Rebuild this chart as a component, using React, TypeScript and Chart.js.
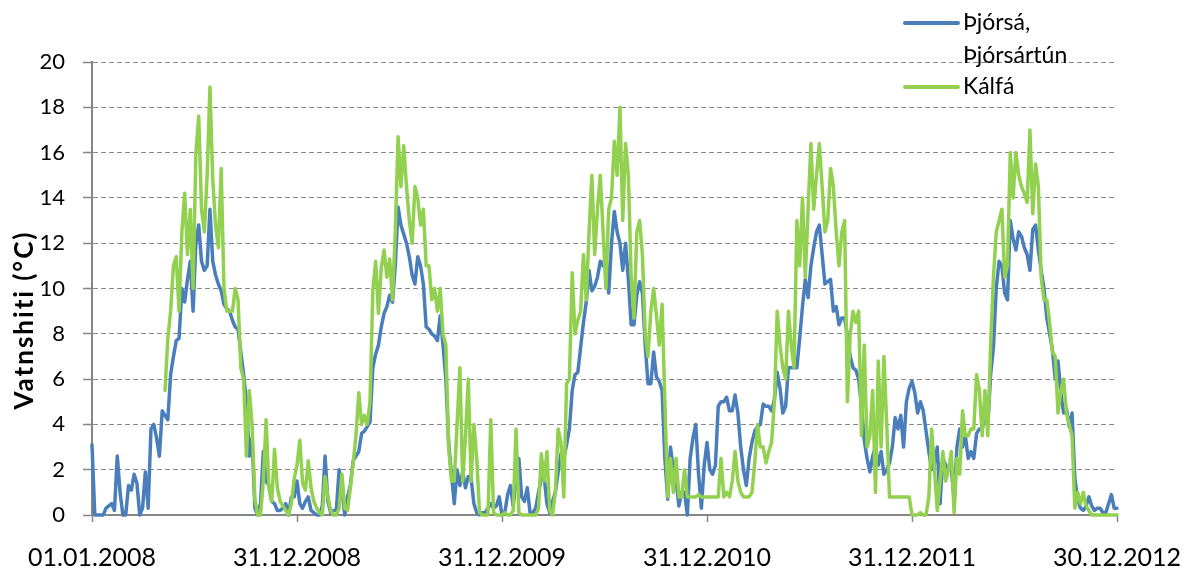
import React, { useEffect, useRef } from 'react';
import { Chart, registerables } from 'chart.js';

Chart.register(...registerables);

// ---------- data ----------
const STEP_DAYS = 5; // one reading every 5 days, starting 01.01.2008
const DAYS_PER_TICK = 365;
const X_TICK_LABELS = ['01.01.2008', '31.12.2008', '31.12.2009', '31.12.2010', '31.12.2011', '30.12.2012'];
const Y_MIN = 0;
const Y_MAX = 20;
const Y_STEP = 2;
const Y_TITLE = 'Vatnshiti (°C)';
const SERIES_NAMES = ['Þjórsá, Þjórsártún', 'Kálfá'];
const LEGEND_LINES = [['Þjórsá,', 'Þjórsártún'], ['Kálfá']];

const THJORSA: (number | null)[] = [
  3.1, 0, 0, 0, 0, 0.3, 0.4, 0.5, 0.2, 2.6,
  1.0, 0, 0, 1.3, 1.1, 1.8, 1.4, 0, 0.3, 1.9,
  0.3, 3.8, 4.0, 3.4, 2.6, 4.6, 4.4, 4.2, 6.2, 7.0,
  7.7, 7.8, 10.0, 9.4, 10.4, 11.2, 9.0, 12.0, 12.8, 11.2,
  10.8, 11.0, 13.5, 11.2, 10.6, 10.2, 9.9, 9.3, 9.1, 9.0,
  8.6, 8.3, 8.2, 7.2, 6.2, 5.0, 2.6, 3.4, 0.3, 0,
  0.5, 2.8, 1.5, 1.3, 0.6, 0.5, 0.2, 0.2, 0.3, 0.5,
  0, 0.8, 0.8, 1.5, 0.5, 0.3, 0.6, 0.8, 0.2, 0.1,
  0, 0, 0.4, 2.6, 0.6, 0.1, 0.2, 0.2, 2.0, 1.2,
  0, 0.8, 1.3, 2.4, 2.6, 2.8, 3.6, 3.7, 3.9, 4.1,
  6.5, 7.1, 7.5, 8.3, 8.9, 9.2, 9.7, 9.4, 11.0, 13.6,
  12.8, 12.4, 12.0, 11.4, 10.6, 10.2, 11.4, 11.0, 10.2, 8.3,
  8.2, 8.0, 7.9, 7.7, 8.8, 7.5, 6.0, 3.2, 1.8, 0.5,
  2.0, 1.3, 1.9, 1.2, 1.7, 1.6, 0.5, 0.1, 0, 0.1,
  0.1, 0.3, 0.5, 0.3, 0.4, 0.8, 0, 0.1, 0.9, 1.3,
  0.4, 1.6, 2.5, 0.8, 0.6, 1.2, 0.1, 0.1, 0.3, 1.0,
  1.6, 1.7, 0.5, 0.1, 0.6, 1.0, 1.9, 2.7, 2.5, 3.1,
  3.8, 5.5, 6.2, 6.3, 7.4, 8.5, 9.4, 10.8, 9.9, 10.1,
  10.5, 11.2, 11.0, 11.5, 9.8, 12.0, 13.4, 12.5, 12.0, 10.8,
  12.0, 10.4, 8.4, 8.4, 9.7, 10.3, 9.8, 7.5, 5.8, 5.8,
  7.2, 6.1, 5.9, 5.5, 2.5, 0.7, 3.0, 2.0, 1.5, 0.4,
  1.0, 1.0, 0, 2.5, 3.4, 4.0, 1.8, 0.3, 2.2, 3.2,
  2.0, 1.8, 2.2, 4.8, 5.0, 5.0, 5.2, 4.6, 4.6, 5.3,
  4.5, 3.0, 2.0, 1.3, 2.5, 3.2, 3.7, 3.9, 4.0, 4.9,
  4.8, 4.8, 4.6, 5.1, 6.3, 5.6, 4.5, 4.8, 6.5, 6.5,
  6.5, 6.5, 7.8, 9.2, 10.4, 9.6, 11.0, 11.8, 12.5, 12.8,
  11.5, 10.2, 10.3, 10.4, 9.0, 9.2, 8.4, 8.7, 8.7, 7.9,
  7.0, 6.5, 6.4, 6.0, 4.8, 3.3, 2.5, 1.9, 2.6, 3.0,
  2.2, 2.8, 1.8, 2.0, 2.3, 3.0, 4.3, 3.8, 4.4, 3.0,
  5.0, 5.6, 5.9, 5.4, 4.5, 5.0, 4.6, 3.7, 2.8, 2.0,
  2.3, 3.0, 0.5, 2.5, 2.2, 2.0, 2.0, 0.7, 3.0, 3.8,
  3.0, 3.5, 2.5, 2.8, 2.5, 3.6, 3.8, 3.8, 4.4, 4.0,
  6.2, 7.4, 10.0, 11.2, 11.0, 9.8, 9.5, 13.0, 12.2, 11.7,
  12.5, 12.3, 11.8, 11.5, 10.8, 12.6, 12.8, 11.7, 10.8, 10.0,
  8.7, 8.0, 7.3, 6.0, 6.8, 5.4, 4.5, 4.7, 3.9, 4.5,
  1.6, 0.7, 0.3, 0.2, 0.4, 0.8, 0.4, 0.2, 0.3, 0.3,
  0.1, 0.1, 0.5, 0.9, 0.3, 0.3,
];

const KALFA: (number | null)[] = [
  null, null, null, null, null, null, null, null, null, null,
  null, null, null, null, null, null, null, null, null, null,
  null, null, null, null, null, null, 5.5, 7.8, 9.0, 11.0,
  11.4, 9.0, 12.5, 14.2, 11.5, 13.5, 10.0, 16.0, 17.6, 13.5,
  12.5, 15.0, 18.9, 14.8, 12.8, 11.8, 15.3, 10.0, 9.0, 9.0,
  9.0, 10.0, 9.5, 6.5, 6.0, 2.6, 5.5, 4.0, 0.7, 0,
  0, 1.5, 4.2, 1.2, 0.6, 2.9, 1.2, 0.6, 0.4, 0.2,
  0, 0.5, 1.6, 2.2, 3.3, 1.4, 1.1, 2.4, 1.2, 0.6,
  0.3, 0.1, 0, 1.7, 0.8, 0.2, 0, 0, 0.3, 1.8,
  0.3, 0.2, 1.2, 2.3, 3.5, 5.4, 4.0, 4.4, 4.0, 5.0,
  9.9, 11.2, 8.9, 10.9, 11.7, 10.5, 11.3, 9.5, 12.5, 16.7,
  14.5, 16.3, 14.5, 13.0, 12.0, 14.5, 14.0, 12.8, 13.5, 11.0,
  11.0, 9.5, 10.0, 9.0, 10.0, 8.0, 7.5, 3.0, 1.5, 1.5,
  4.0, 6.5, 1.5, 3.5, 6.0, 1.5, 4.0, 2.5, 0.1, 0,
  0, 0, 4.2, 0.1, 0, 0, 0, 0.1, 0, 0,
  0.2, 3.8, 0.1, 0, 0, 0, 0, 0, 0, 0.3,
  2.7, 1.5, 2.8, 0.2, 0, 1.0, 3.8, 3.2, 0.8, 5.8,
  6.0, 10.7, 8.0, 8.6, 9.0, 11.5, 9.5, 12.5, 15.0, 11.5,
  13.5, 15.0, 12.5, 10.0, 13.5, 14.0, 16.5, 15.0, 18.0, 13.0,
  16.4, 15.0, 10.5, 8.7, 12.5, 13.0, 11.5, 8.0, 7.0, 9.0,
  10.0, 8.8, 7.5, 9.3, 5.0, 0.8, 2.5, 1.0, 2.5, 0.8,
  0.8, 2.0, 0.8, 0.8, 0.8, 0.8, 0.9, 0.8, 0.8, 0.8,
  0.8, 0.8, 0.8, 0.8, 2.5, 0.8, 1.0, 0.8, 1.5, 2.8,
  1.5, 1.0, 0.8, 0.8, 0.8, 1.0, 2.3, 4.0, 3.0, 3.0,
  2.3, 2.8, 3.2, 5.0, 9.0, 7.5, 6.5, 6.0, 9.0, 7.5,
  6.5, 13.0, 11.0, 14.0, 10.5, 13.5, 16.4, 13.5, 15.0, 16.4,
  14.5, 12.5, 13.0, 15.3, 14.5, 12.5, 11.0, 12.5, 13.0, 5.0,
  8.0, 9.0, 8.5, 9.0, 3.5, 7.5, 3.0, 3.5, 5.5, 1.0,
  6.8, 3.0, 7.0, 4.0, 0.8, 0.8, 0.8, 0.8, 0.8, 0.8,
  0.8, 0.8, 0, 0, 0, 0.1, 0, 0, 0.8, 3.8,
  2.0, 0.2, 1.5, 2.8, 1.5, 2.0, 2.8, 0.1, 2.5, 1.8,
  4.6, 3.5, 3.5, 3.8, 3.8, 6.2, 5.5, 3.5, 5.5, 3.5,
  7.5, 10.5, 12.5, 13.0, 13.5, 10.5, 11.0, 16.0, 14.0, 16.0,
  15.0, 14.5, 14.2, 13.8, 17.0, 13.3, 15.5, 14.5, 10.5, 9.5,
  9.5, 8.5, 7.2, 7.0, 4.5, 5.5, 6.0, 4.5, 4.0, 3.5,
  0.3, 1.0, 0.5, 1.0, 0.4, 0.2, 0, 0, 0, 0,
  0, 0, 0, 0, 0, 0,
];

// ---------- styles ----------
const COLORS = ['#4A7EBB', '#92D050'];
const AXIS_COLOR = '#868686';
const GRID_COLOR = '#8a8a8a';
const FONT = 'Lato';

const overlayPlugin = {
  id: 'overlay',
  afterDraw(chart: any) {
    const ctx = chart.ctx as CanvasRenderingContext2D;
    // y-axis title
    ctx.save();
    ctx.translate(25, 320);
    ctx.rotate(-Math.PI / 2);
    ctx.font = `bold 26px ${FONT}`;
    (ctx as any).letterSpacing = '2px';
    ctx.fillStyle = '#000';
    ctx.textAlign = 'center';
    ctx.textBaseline = 'middle';
    ctx.fillText(Y_TITLE, 0, 0);
    ctx.restore();

    // legend
    ctx.save();
    ctx.font = `23px ${FONT}`;
    ctx.fillStyle = '#000';
    ctx.textAlign = 'left';
    ctx.textBaseline = 'alphabetic';
    const lineX1 = 905;
    const lineX2 = 958;
    const textX = 963;
    const rowStarts = [30, 94];
    LEGEND_LINES.forEach((lines, i) => {
      const base = rowStarts[i];
      ctx.strokeStyle = COLORS[i];
      ctx.lineWidth = 4;
      ctx.lineCap = 'round';
      ctx.beginPath();
      ctx.moveTo(lineX1, base - 7);
      ctx.lineTo(lineX2, base - 7);
      ctx.stroke();
      lines.forEach((t, j) => ctx.fillText(t, textX, base + j * 33));
    });
    ctx.restore();
  },
};

export default function App() {
  const canvasRef = useRef<HTMLCanvasElement | null>(null);

  useEffect(() => {
    if (!canvasRef.current) return;
    const toPoints = (arr: (number | null)[]) => arr.map((y, i) => ({ x: i * STEP_DAYS, y }));
    const xMax = (X_TICK_LABELS.length - 1) * DAYS_PER_TICK;

    const chart = new Chart(canvasRef.current, {
      type: 'line',
      data: {
        datasets: [
          {
            label: SERIES_NAMES[0],
            data: toPoints(THJORSA),
            borderColor: COLORS[0],
            backgroundColor: COLORS[0],
            borderWidth: 3.5,
            pointRadius: 0,
            tension: 0,
            borderJoinStyle: 'round',
            borderCapStyle: 'round',
            order: 1,
            clip: false,
          },
          {
            label: SERIES_NAMES[1],
            data: toPoints(KALFA),
            borderColor: COLORS[1],
            backgroundColor: COLORS[1],
            borderWidth: 3.5,
            pointRadius: 0,
            tension: 0,
            borderJoinStyle: 'round',
            borderCapStyle: 'round',
            order: 0,
            clip: false,
          },
        ],
      } as any,
      options: {
        animation: false,
        responsive: false,
        devicePixelRatio: 1,
        layout: { padding: { top: 62, right: 69, left: 0, bottom: 0 } },
        plugins: {
          legend: { display: false },
          tooltip: { enabled: false },
        },
        scales: {
          x: {
            type: 'linear',
            min: 0,
            max: xMax,
            ticks: {
              stepSize: DAYS_PER_TICK,
              autoSkip: false,
              maxRotation: 0,
              padding: 21,
              color: '#000',
              font: { family: FONT, size: 25 },
              callback: (v: any) => X_TICK_LABELS[Math.round(Number(v) / DAYS_PER_TICK)] ?? '',
            },
            grid: {
              drawOnChartArea: false,
              drawTicks: true,
              tickLength: 7,
              tickColor: AXIS_COLOR,
              tickWidth: 1.5,
            },
            border: { display: true, color: AXIS_COLOR, width: 2 },
            afterFit: (s: any) => {
              s.height = 56;
              s.paddingLeft = 0;
              s.paddingRight = 0;
            },
          },
          y: {
            min: Y_MIN,
            max: Y_MAX,
            ticks: {
              stepSize: Y_STEP,
              padding: 18,
              color: '#000',
              font: { family: FONT, size: 22 },
            },
            grid: {
              color: GRID_COLOR,
              lineWidth: 1,
              tickLength: 9,
              tickColor: AXIS_COLOR,
              tickWidth: 1.5,
            },
            border: { display: true, color: AXIS_COLOR, width: 2, dash: [5, 3] },
            afterFit: (s: any) => {
              s.width = 92;
              s.paddingTop = 0;
              s.paddingBottom = 0;
            },
          },
        },
      } as any,
      plugins: [overlayPlugin],
    });
    return () => chart.destroy();
  }, []);

  return (
    <div style={{ position: 'absolute', left: 0, top: 0, width: 1186, height: 571, background: '#fff' }}>
      <canvas ref={canvasRef} width={1186} height={571} style={{ width: 1186, height: 571, display: 'block' }} />
    </div>
  );
}
